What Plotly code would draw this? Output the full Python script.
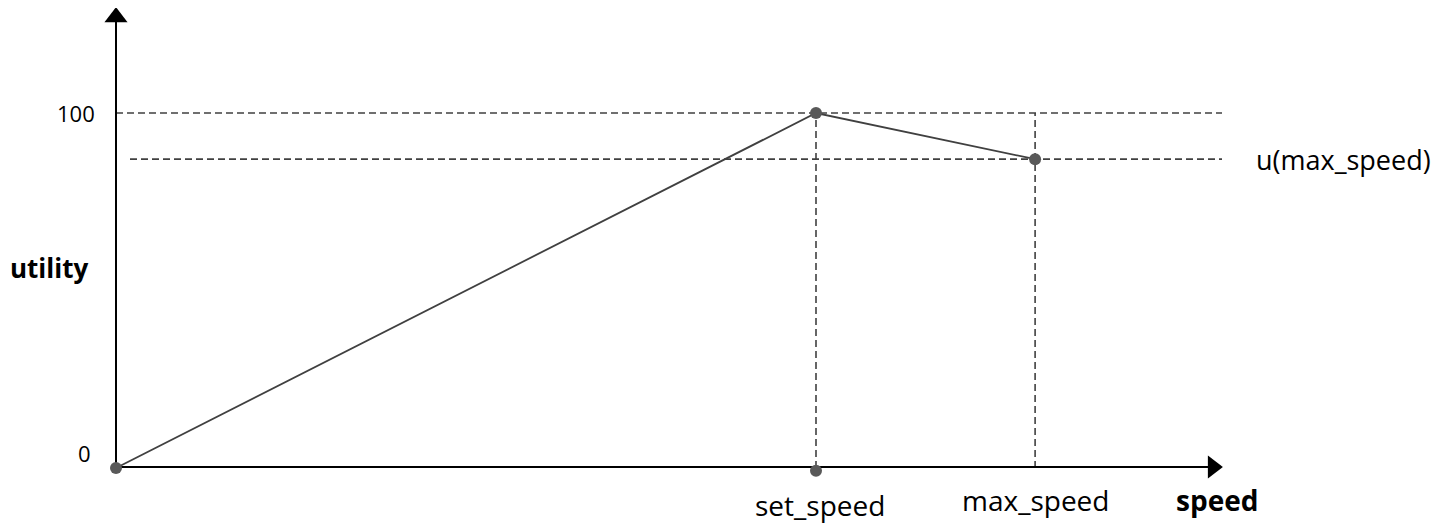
import plotly.graph_objects as go

# ---- data (conceptual utility curve) ----
speed_names = ["0", "set_speed", "max_speed"]
speed_values = [0, 100, 131.3]
utility_values = [0, 100, 87.0]
utility_ticks = [0, 100]
utility_tick_labels = ["0", "100"]
u_max_label = "u(max_speed)"
x_title = "speed"
y_title = "utility"

# page has an 8px body margin -> figure occupies target pixels 8..1454 / 8..524
OFF = 8
W, H = 1454 - OFF, 524 - OFF
X_END = 158.0      # end of x axis arrow (speed units)
Y_END = 129.5      # end of y axis arrow (utility units)
DASH_END = 158.0
line_col = "#404040"
dot_col = "#595959"
FONT = "Open Sans"

fig = go.Figure()

# dashed reference lines
dash = dict(color=line_col, width=1.6, dash="7px,4px")
fig.add_trace(go.Scatter(x=[0, DASH_END], y=[utility_values[1]] * 2, mode="lines",
                         line=dash, hoverinfo="skip"))
fig.add_trace(go.Scatter(x=[2, DASH_END], y=[utility_values[2]] * 2, mode="lines",
                         line=dash, hoverinfo="skip"))
for sv in speed_values[1:]:
    fig.add_trace(go.Scatter(x=[sv, sv], y=[0, utility_values[1]], mode="lines",
                             line=dash, hoverinfo="skip"))

# axes
fig.add_trace(go.Scatter(x=[0, X_END - 2], y=[0.3, 0.3], mode="lines",
                         line=dict(color="#000000", width=2), hoverinfo="skip"))
fig.add_trace(go.Scatter(x=[0, 0], y=[0, Y_END - 3], mode="lines",
                         line=dict(color="#000000", width=2), hoverinfo="skip"))
fig.add_trace(go.Scatter(x=[X_END - 1.3], y=[0.3], mode="markers",
                         marker=dict(symbol="triangle-right", size=20, color="#000000"), hoverinfo="skip"))
fig.add_trace(go.Scatter(x=[0], y=[Y_END - 2.5], mode="markers",
                         marker=dict(symbol="triangle-up", size=20, color="#000000"), hoverinfo="skip"))

# utility curve
fig.add_trace(go.Scatter(x=speed_values, y=utility_values, mode="lines",
                         line=dict(color=line_col, width=1.8), hoverinfo="skip"))
fig.add_trace(go.Scatter(x=speed_values + [speed_values[1]], y=utility_values + [-0.8], mode="markers",
                         marker=dict(size=12, color=dot_col), hoverinfo="skip"))

ann = []
for t, lab in zip(utility_ticks, utility_tick_labels):
    ann.append(dict(x=-2.7 if t else -3.3, y=t if t else 4.2, text=lab, xanchor="right", yanchor="middle",
                    showarrow=False, font=dict(size=22, color="#000000", family=FONT)))
for sv, nm in zip(speed_values[1:], speed_names[1:]):
    ann.append(dict(x=sv + (0.6 if nm == "set_speed" else 0.1), y=-10.4 if nm == "set_speed" else -9.0,
                    text=nm, xanchor="center", yanchor="middle",
                    showarrow=False, font=dict(size=28, color="#000000", family=FONT)))
ann.append(dict(x=162.5, y=utility_values[2], text=u_max_label, xanchor="left", yanchor="middle",
                showarrow=False, font=dict(size=27, color="#000000", family=FONT)))
ann.append(dict(x=151.1, y=-9.0, text="<b>" + x_title + "</b>", xanchor="left", yanchor="middle",
                showarrow=False, font=dict(size=28, color="#000000", family=FONT)))
ann.append(dict(x=0.0, xref="paper", y=56.3, text="<b>" + y_title + "</b>", xanchor="left", yanchor="middle",
                showarrow=False, font=dict(size=26, color="#000000", family=FONT)))

xs = 7.0   # px per speed unit
ys = 3.55  # px per utility unit
fig.update_layout(
    width=W, height=H,
    margin=dict(l=0, r=0, t=0, b=0),
    paper_bgcolor="white", plot_bgcolor="white",
    showlegend=False,
    xaxis=dict(range=[(OFF - 116) / xs, (1454 - 116) / xs], visible=False, fixedrange=True),
    yaxis=dict(range=[-(524 - 468) / ys, (468 - OFF) / ys], visible=False, fixedrange=True),
    annotations=ann,
)

fig.write_html("out.html")
